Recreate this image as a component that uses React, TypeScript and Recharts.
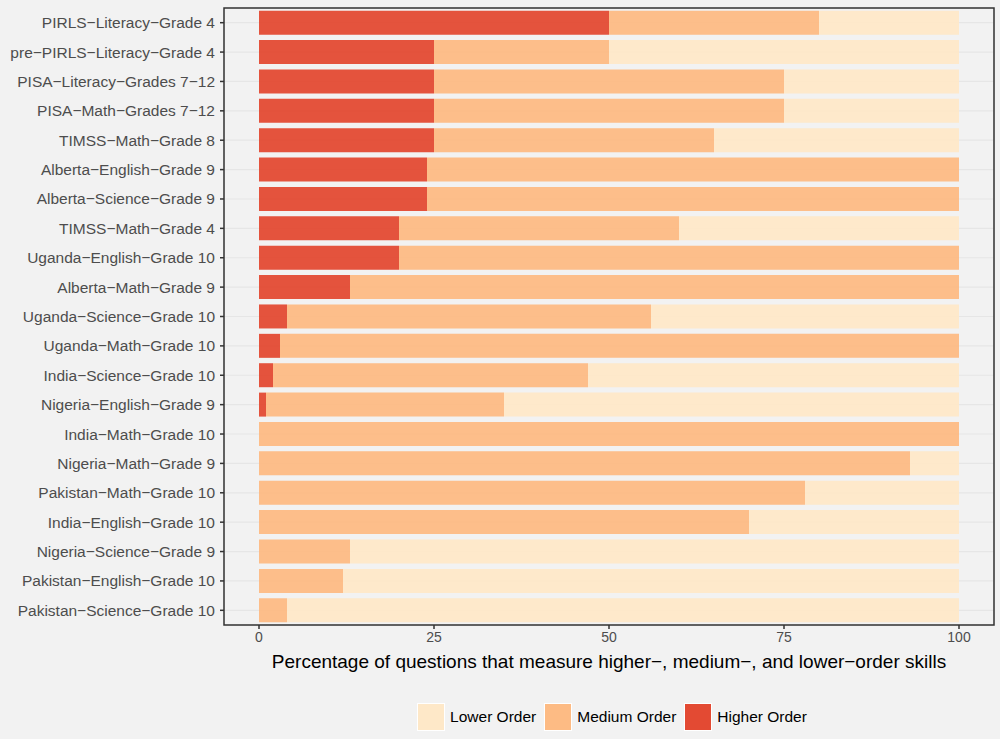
import React from "react";
import {
  BarChart,
  Bar,
  XAxis,
  YAxis,
  CartesianGrid,
  ReferenceArea,
} from "recharts";

const assessments = [
  "PIRLS−Literacy−Grade 4",
  "pre−PIRLS−Literacy−Grade 4",
  "PISA−Literacy−Grades 7−12",
  "PISA−Math−Grades 7−12",
  "TIMSS−Math−Grade 8",
  "Alberta−English−Grade 9",
  "Alberta−Science−Grade 9",
  "TIMSS−Math−Grade 4",
  "Uganda−English−Grade 10",
  "Alberta−Math−Grade 9",
  "Uganda−Science−Grade 10",
  "Uganda−Math−Grade 10",
  "India−Science−Grade 10",
  "Nigeria−English−Grade 9",
  "India−Math−Grade 10",
  "Nigeria−Math−Grade 9",
  "Pakistan−Math−Grade 10",
  "India−English−Grade 10",
  "Nigeria−Science−Grade 9",
  "Pakistan−English−Grade 10",
  "Pakistan−Science−Grade 10",
];

const higherOrder = [50, 25, 25, 25, 25, 24, 24, 20, 20, 13, 4, 3, 2, 1, 0, 0, 0, 0, 0, 0, 0];
const mediumOrder = [30, 25, 50, 50, 40, 76, 76, 40, 80, 87, 52, 97, 45, 34, 100, 93, 78, 70, 13, 12, 4];
const lowerOrder = [20, 50, 25, 25, 35, 0, 0, 40, 0, 0, 44, 0, 53, 65, 0, 7, 22, 30, 87, 88, 96];

const xTicks = [0, 25, 50, 75, 100];
const xMinorTicks = [0, 12.5, 25, 37.5, 50, 62.5, 75, 87.5, 100];

const series = [
  { key: "lower", name: "Lower Order", color: "#fee8c8" },
  { key: "medium", name: "Medium Order", color: "#fdbb84" },
  { key: "higher", name: "Higher Order", color: "#e34a33" },
];

const data = assessments.map((name, i) => ({
  name,
  higher: higherOrder[i],
  medium: mediumOrder[i],
  lower: lowerOrder[i],
}));

const FONT = "'Liberation Sans', Arial, sans-serif";
const BG = "#f2f2f2";

export default function App() {
  // stacking order left→right is Higher, Medium, Lower
  const stackOrder = [series[2], series[1], series[0]];

  return (
    <div
      style={{
        position: "absolute",
        left: 0,
        top: 0,
        width: 1000,
        height: 739,
        background: BG,
        fontFamily: FONT,
      }}
    >
      <BarChart
        width={1000}
        height={739}
        data={data}
        layout="vertical"
        barCategoryGap="9%"
        margin={{ top: 8, right: 6, bottom: 54, left: 0 }}
      >
        <XAxis xAxisId="minor" type="number" domain={[-5, 105]} ticks={xMinorTicks} hide />
        <CartesianGrid
          xAxisId="minor"
          horizontal={false}
          stroke="#e6e6e6"
          strokeWidth={0.6}
        />
        <CartesianGrid vertical={false} stroke="#e6e6e6" strokeWidth={1.2} />
        <XAxis
          type="number"
          domain={[-5, 105]}
          ticks={xTicks}
          allowDataOverflow
          axisLine={false}
          tickSize={4}
          tickMargin={3}
          tickLine={{ stroke: "#333333", strokeWidth: 1.5 }}
          tick={{ fill: "#4d4d4d", fontSize: 14, fontFamily: FONT }}
          height={60}
          label={{
            value: "Percentage of questions that measure higher−, medium−, and lower−order skills",
            position: "insideBottom",
            offset: 17,
            fill: "#000000",
            fontSize: 19,
            fontFamily: FONT,
          }}
        />
        <YAxis
          type="category"
          dataKey="name"
          width={224}
          axisLine={false}
          tickSize={4}
          tickMargin={5}
          interval={0}
          tickLine={{ stroke: "#333333", strokeWidth: 1.5 }}
          tick={{ fill: "#4d4d4d", fontSize: 15.5, fontFamily: FONT }}
        />
        {stackOrder.map((s) => (
          <Bar
            key={s.key}
            dataKey={s.key}
            name={s.name}
            stackId="skills"
            fill={s.color}
            fillOpacity={0.95}
            isAnimationActive={false}
          />
        ))}
        <ReferenceArea
          x1={-5}
          x2={105}
          fill="none"
          stroke="#333333"
          strokeWidth={1.5}
          ifOverflow="visible"
        />
      </BarChart>
      <div
        style={{
          position: "absolute",
          top: 703,
          left: 0,
          width: 1000,
          display: "flex",
          justifyContent: "center",
          alignItems: "center",
          paddingLeft: 238,
          paddingRight: 6,
          boxSizing: "border-box",
        }}
      >
        {series.map((s) => (
          <div key={s.key} style={{ display: "flex", alignItems: "center", marginRight: 8 }}>
            <div
              style={{
                width: 28,
                height: 28,
                boxSizing: "border-box",
                background: s.color,
                border: "1.5px solid #ffffff",
              }}
            />
            <span style={{ marginLeft: 5, fontSize: 15.5, color: "#000000" }}>{s.name}</span>
          </div>
        ))}
      </div>
    </div>
  );
}
